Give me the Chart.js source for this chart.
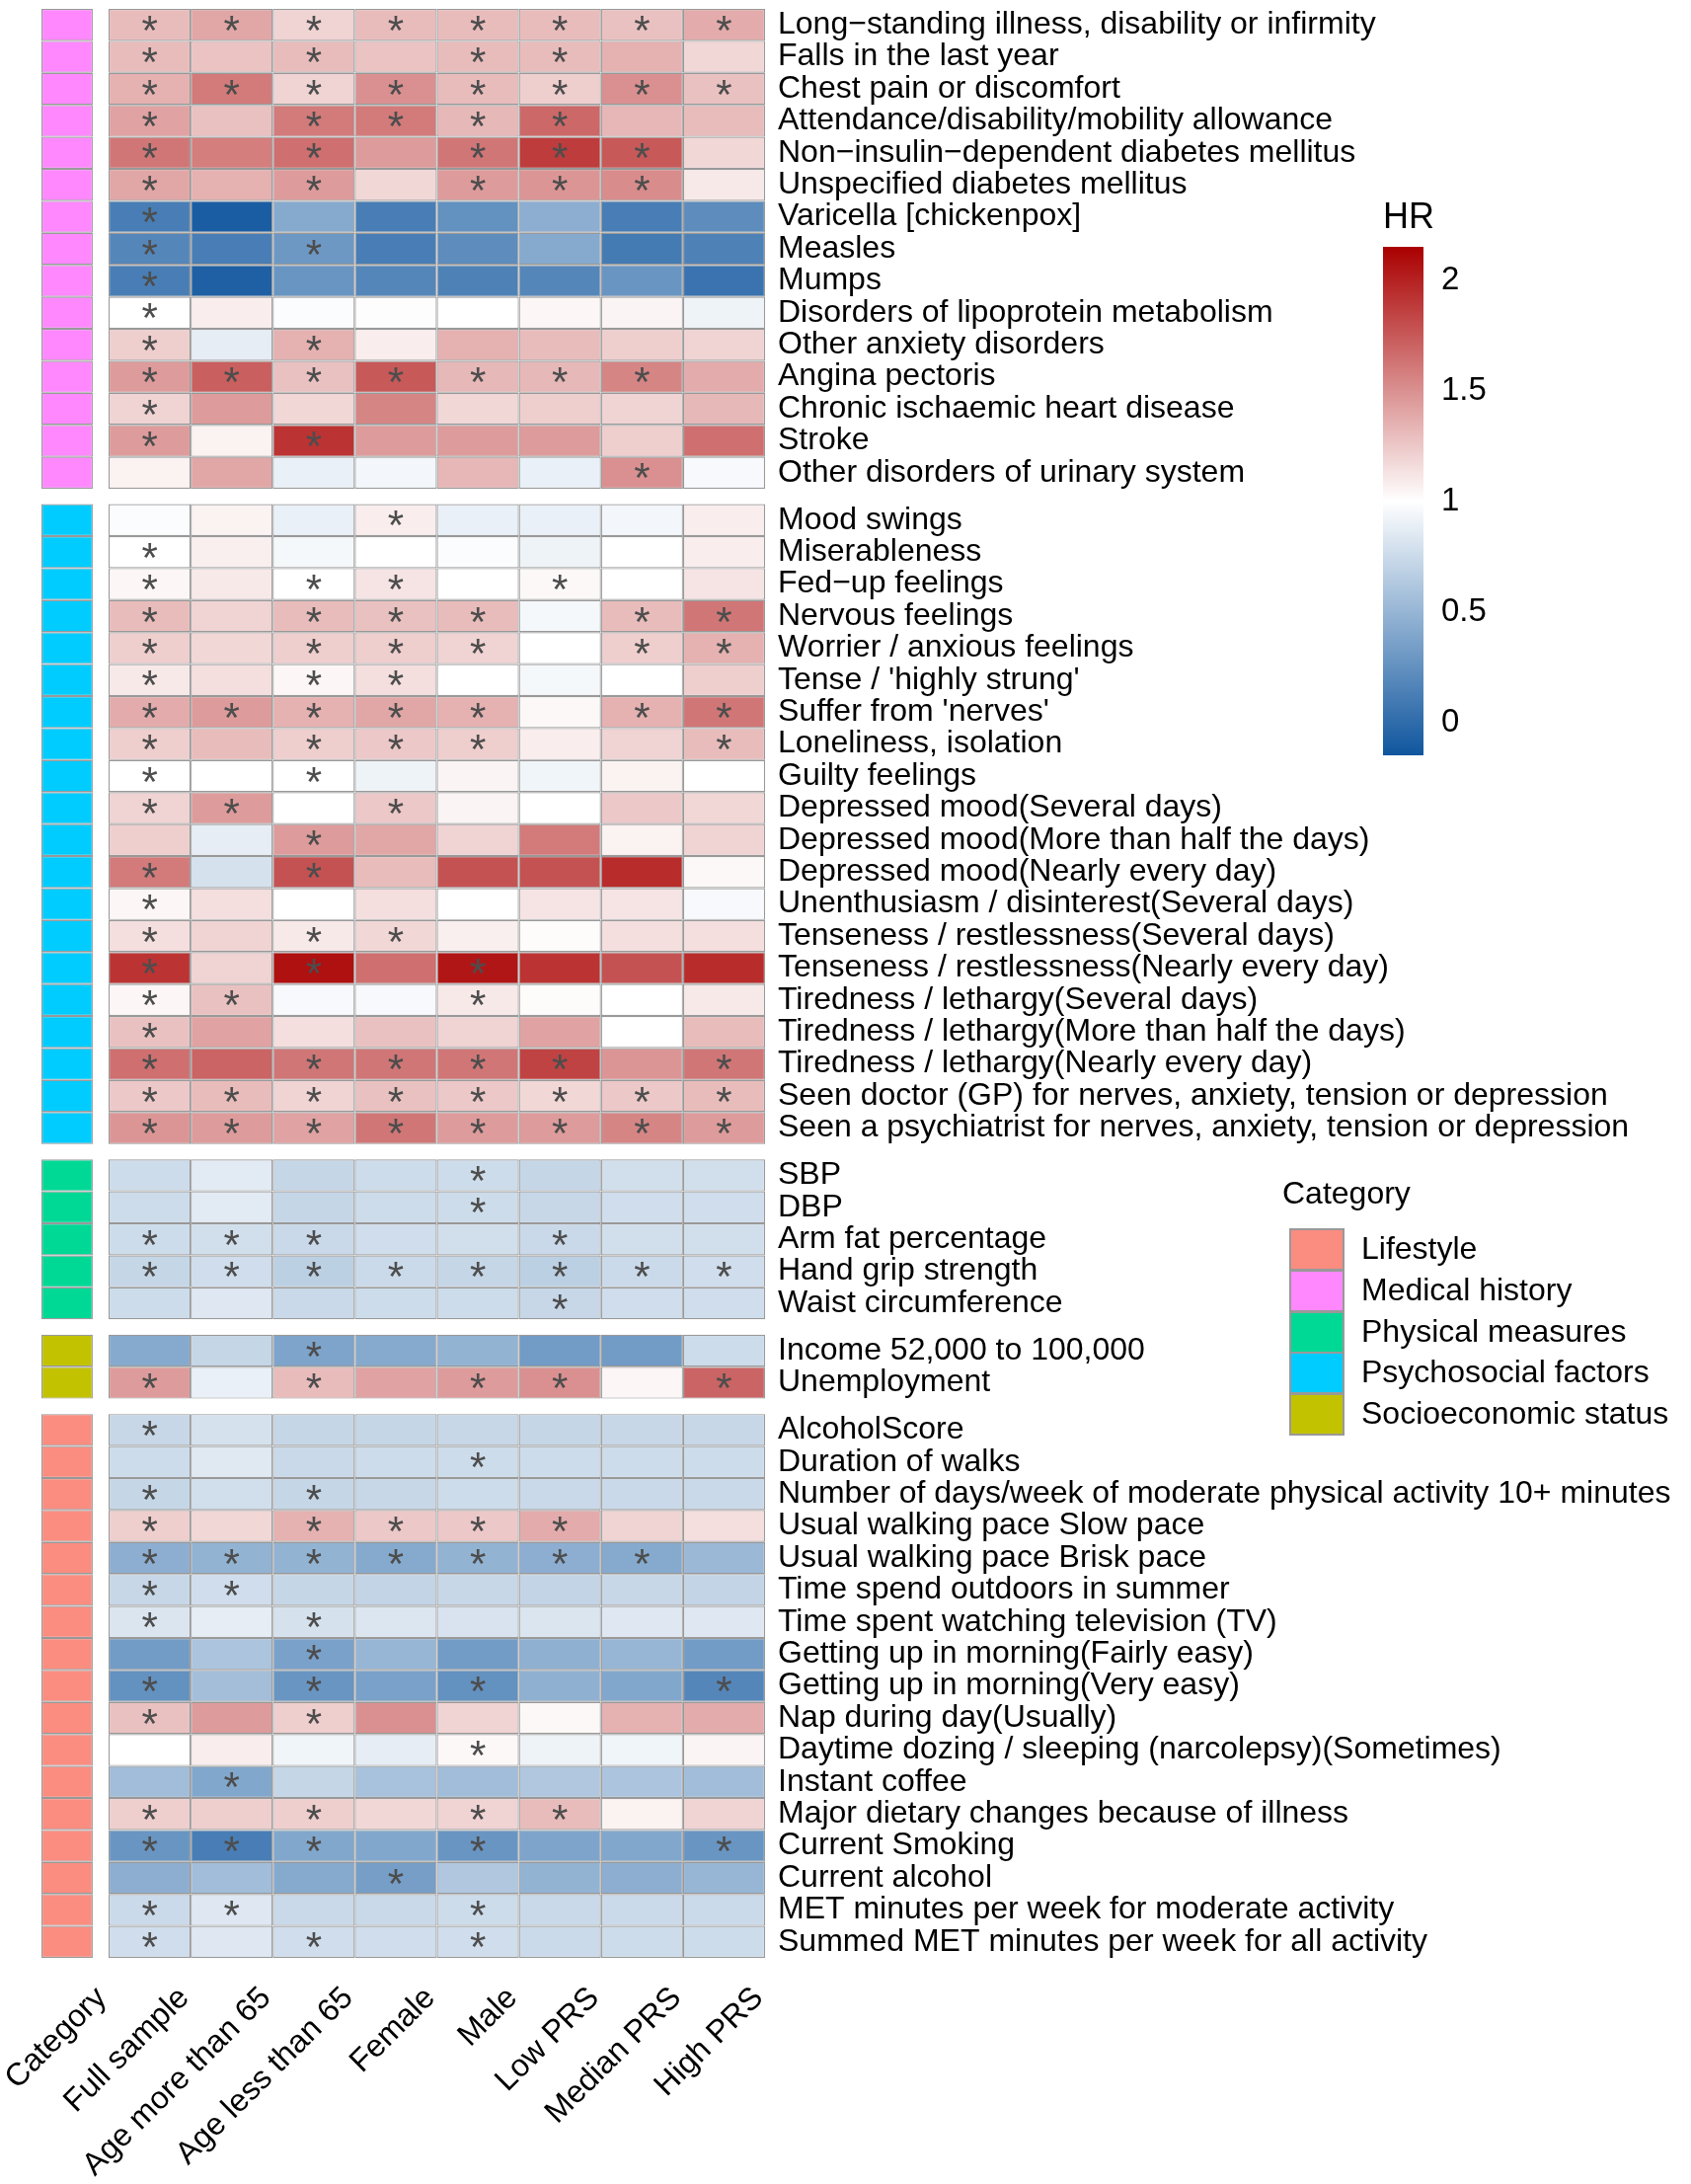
<!DOCTYPE html>
<html>
<head>
<meta charset="utf-8">
<script src="https://cdn.jsdelivr.net/npm/chart.js@4.4.1/dist/chart.umd.min.js"></script>
<style>
  body { margin: 0; background: #fff; font-family: "Liberation Sans", Arial, sans-serif; }
  #wrap { position: relative; width: 1713px; height: 2212px; }
  canvas { position: absolute; }
  .lg { position: absolute; font-size: 32px; color: #000; white-space: nowrap; }
  .box { position: absolute; box-sizing: border-box; border: 2px solid #999; }
</style>
</head>
<body>
<div id="wrap">
  <canvas id="heat" width="1713" height="2212" style="left:0;top:0"></canvas>
  <canvas id="scale" width="200" height="600" style="left:1380px;top:200px"></canvas>
  <div class="lg" style="left:1401px;top:198px;font-size:36px">HR</div>
  <div id="catLegend"></div>
</div>
<script>
const columns = ["Full sample", "Age more than 65", "Age less than 65", "Female", "Male", "Low PRS", "Median PRS", "High PRS"];
const categories = ["Lifestyle", "Medical history", "Physical measures", "Psychosocial factors", "Socioeconomic status"];
const hrTicks = [0, 0.5, 1, 1.5, 2];

const medicalRows = [
  "Long−standing illness, disability or infirmity", "Falls in the last year", "Chest pain or discomfort",
  "Attendance/disability/mobility allowance", "Non−insulin−dependent diabetes mellitus", "Unspecified diabetes mellitus",
  "Varicella [chickenpox]", "Measles", "Mumps", "Disorders of lipoprotein metabolism", "Other anxiety disorders",
  "Angina pectoris", "Chronic ischaemic heart disease", "Stroke", "Other disorders of urinary system"
];
const medicalHR = [
  [1.30, 1.40, 1.20, 1.30, 1.30, 1.30, 1.28, 1.38],
  [1.30, 1.27, 1.30, 1.27, 1.30, 1.30, 1.35, 1.18],
  [1.35, 1.60, 1.20, 1.50, 1.30, 1.22, 1.50, 1.28],
  [1.42, 1.28, 1.60, 1.60, 1.32, 1.68, 1.33, 1.30],
  [1.62, 1.58, 1.65, 1.45, 1.62, 1.88, 1.75, 1.18],
  [1.40, 1.35, 1.45, 1.18, 1.45, 1.48, 1.52, 1.10],
  [0.12, -0.10, 0.42, 0.12, 0.25, 0.45, 0.12, 0.22],
  [0.18, 0.12, 0.30, 0.12, 0.22, 0.42, 0.10, 0.15],
  [0.12, -0.08, 0.28, 0.18, 0.15, 0.18, 0.28, 0.05],
  [1.00, 1.08, 0.98, 1.01, 1.00, 1.04, 1.05, 0.92],
  [1.22, 0.88, 1.35, 1.08, 1.35, 1.30, 1.22, 1.20],
  [1.45, 1.72, 1.28, 1.75, 1.32, 1.32, 1.55, 1.38],
  [1.20, 1.45, 1.18, 1.55, 1.18, 1.22, 1.20, 1.32],
  [1.45, 1.06, 1.92, 1.45, 1.45, 1.45, 1.22, 1.65],
  [1.06, 1.40, 0.90, 0.94, 1.33, 0.90, 1.50, 0.96]
];
const medicalStars = [
  "********", "*.*.**..", "********", "*.****..", "*.*.***.", "*.*.***.", "*.......", "*.*.....",
  "*.......", "*.......", "*.*.....", "*******.", "*.......", "*.*.....", "......*."
];

const psychoRows = [
  "Mood swings", "Miserableness", "Fed−up feelings", "Nervous feelings", "Worrier / anxious feelings",
  "Tense / 'highly strung'", "Suffer from 'nerves'", "Loneliness, isolation", "Guilty feelings",
  "Depressed mood(Several days)", "Depressed mood(More than half the days)", "Depressed mood(Nearly every day)",
  "Unenthusiasm / disinterest(Several days)", "Tenseness / restlessness(Several days)",
  "Tenseness / restlessness(Nearly every day)", "Tiredness / lethargy(Several days)",
  "Tiredness / lethargy(More than half the days)", "Tiredness / lethargy(Nearly every day)",
  "Seen doctor (GP) for nerves, anxiety, tension or depression",
  "Seen a psychiatrist for nerves, anxiety, tension or depression"
];
const psychoHR = [
  [0.98, 1.06, 0.90, 1.08, 0.90, 0.90, 0.94, 1.08],
  [1.00, 1.07, 0.95, 1.00, 0.98, 0.92, 1.00, 1.08],
  [1.04, 1.10, 1.00, 1.12, 1.00, 1.03, 1.00, 1.12],
  [1.30, 1.20, 1.30, 1.28, 1.30, 0.95, 1.30, 1.62],
  [1.22, 1.18, 1.22, 1.22, 1.20, 1.00, 1.22, 1.35],
  [1.10, 1.15, 1.04, 1.15, 1.00, 0.95, 1.00, 1.22],
  [1.38, 1.45, 1.35, 1.40, 1.35, 1.03, 1.35, 1.62],
  [1.22, 1.30, 1.22, 1.25, 1.22, 1.08, 1.20, 1.30],
  [1.00, 1.00, 1.00, 0.92, 1.05, 0.93, 1.06, 1.00],
  [1.20, 1.45, 1.00, 1.25, 1.05, 1.00, 1.25, 1.18],
  [1.22, 0.88, 1.45, 1.40, 1.20, 1.60, 1.06, 1.20],
  [1.60, 0.80, 1.78, 1.30, 1.78, 1.78, 1.95, 1.03],
  [1.04, 1.15, 1.00, 1.15, 1.00, 1.12, 1.12, 0.96],
  [1.15, 1.20, 1.10, 1.18, 1.07, 1.02, 1.15, 1.15],
  [1.92, 1.20, 2.08, 1.65, 2.05, 1.92, 1.78, 1.95],
  [1.04, 1.28, 0.96, 0.96, 1.10, 1.02, 1.00, 1.10],
  [1.28, 1.42, 1.15, 1.28, 1.20, 1.42, 1.00, 1.30],
  [1.65, 1.70, 1.62, 1.62, 1.62, 1.85, 1.48, 1.62],
  [1.25, 1.30, 1.20, 1.28, 1.25, 1.18, 1.25, 1.30],
  [1.48, 1.45, 1.42, 1.62, 1.45, 1.45, 1.55, 1.45]
];
const psychoStars = [
  "...*....", "*.......", "*.**.*..", "*.***.**", "*.***.**", "*.**....", "*****.**", "*.***..*",
  "*.*.....", "**.*....", "..*.....", "*.*.....", "*.......", "*.**....", "*.*.*...", "**..*...",
  "*.......", "*.****.*", "********", "********"
];

const physicalRows = ["SBP", "DBP", "Arm fat percentage", "Hand grip strength", "Waist circumference"];
const physicalHR = [
  [0.76, 0.86, 0.72, 0.76, 0.76, 0.72, 0.78, 0.78],
  [0.76, 0.86, 0.72, 0.76, 0.76, 0.73, 0.77, 0.77],
  [0.76, 0.78, 0.74, 0.77, 0.78, 0.74, 0.78, 0.78],
  [0.72, 0.77, 0.68, 0.75, 0.72, 0.68, 0.75, 0.77],
  [0.76, 0.84, 0.74, 0.76, 0.76, 0.73, 0.77, 0.77]
];
const physicalStars = ["....*...", "....*...", "***..*..", "********", ".....*.."];

const socioRows = ["Income 52,000 to 100,000", "Unemployment"];
const socioHR = [
  [0.42, 0.72, 0.38, 0.42, 0.48, 0.32, 0.32, 0.76],
  [1.45, 0.90, 1.30, 1.42, 1.45, 1.50, 1.04, 1.70]
];
const socioStars = ["..*.....", "*.*.**.*"];

const lifestyleRows = [
  "AlcoholScore", "Duration of walks", "Number of days/week of moderate physical activity 10+ minutes",
  "Usual walking pace Slow pace", "Usual walking pace Brisk pace", "Time spend outdoors in summer",
  "Time spent watching television (TV)", "Getting up in morning(Fairly easy)", "Getting up in morning(Very easy)",
  "Nap during day(Usually)", "Daytime dozing / sleeping (narcolepsy)(Sometimes)", "Instant coffee",
  "Major dietary changes because of illness", "Current Smoking", "Current alcohol",
  "MET minutes per week for moderate activity", "Summed MET minutes per week for all activity"
];
const lifestyleHR = [
  [0.73, 0.80, 0.72, 0.72, 0.73, 0.72, 0.73, 0.73],
  [0.76, 0.85, 0.74, 0.76, 0.76, 0.76, 0.76, 0.76],
  [0.72, 0.78, 0.72, 0.73, 0.76, 0.74, 0.74, 0.74],
  [1.22, 1.18, 1.35, 1.25, 1.25, 1.38, 1.20, 1.15],
  [0.45, 0.48, 0.48, 0.42, 0.48, 0.45, 0.42, 0.52],
  [0.73, 0.77, 0.72, 0.71, 0.73, 0.71, 0.73, 0.71],
  [0.82, 0.88, 0.80, 0.83, 0.81, 0.82, 0.84, 0.84],
  [0.32, 0.60, 0.36, 0.50, 0.32, 0.46, 0.50, 0.32],
  [0.25, 0.56, 0.28, 0.36, 0.25, 0.46, 0.40, 0.18],
  [1.28, 1.45, 1.22, 1.50, 1.20, 1.03, 1.35, 1.38],
  [1.00, 1.08, 0.93, 0.88, 1.03, 0.92, 0.93, 1.05],
  [0.55, 0.40, 0.72, 0.58, 0.55, 0.62, 0.60, 0.55],
  [1.22, 1.22, 1.22, 1.18, 1.20, 1.30, 1.06, 1.20],
  [0.28, 0.12, 0.40, 0.40, 0.28, 0.38, 0.40, 0.28],
  [0.45, 0.55, 0.42, 0.34, 0.62, 0.48, 0.45, 0.50],
  [0.75, 0.84, 0.74, 0.74, 0.76, 0.74, 0.75, 0.75],
  [0.77, 0.84, 0.77, 0.77, 0.77, 0.75, 0.76, 0.76]
];
const lifestyleStars = [
  "*.......", "....*...", "*.*.....", "*.****..", "*******.", "**......", "*.*.....", "..*.....",
  "*.*.*..*", "*.*.....", "....*...", ".*......", "*.*.**..", "***.*..*", "...*....", "**..*...", "*.*.*..."
];

// plot order of the blocks (top to bottom)
const blocks = [
  ["Medical history", medicalRows, medicalHR, medicalStars],
  ["Psychosocial factors", psychoRows, psychoHR, psychoStars],
  ["Physical measures", physicalRows, physicalHR, physicalStars],
  ["Socioeconomic status", socioRows, socioHR, socioStars],
  ["Lifestyle", lifestyleRows, lifestyleHR, lifestyleStars]
];

// ---- styles / layout ----
const FONT = '"Liberation Sans", Arial, sans-serif';
const catColors = {
  "Lifestyle": "#FA8C80",
  "Medical history": "#FF88FF",
  "Physical measures": "#00D996",
  "Psychosocial factors": "#00CCFF",
  "Socioeconomic status": "#C2C200"
};
const HR_MIN = -0.15, HR_MID = 1, HR_MAX = 2.15;
const BLUE = [16, 86, 158], WHITE = [255, 255, 255], RED = [170, 0, 0];
const GAP = 0.48;             // gap between blocks, in rows
const CAT_L = -0.818, CAT_R = -0.193;

function hrColor(v) {
  let a, b, t;
  if (v <= HR_MID) { a = BLUE; b = WHITE; t = (v - HR_MIN) / (HR_MID - HR_MIN); }
  else { a = WHITE; b = RED; t = (v - HR_MID) / (HR_MAX - HR_MID); }
  t = Math.max(0, Math.min(1, t));
  const c = a.map((x, i) => Math.round(x + (b[i] - x) * t));
  return `rgb(${c[0]},${c[1]},${c[2]})`;
}

const rowPos = [], rowLabels = [], rowHR = [], rowStars = [], rowCat = [];
let offset = 0;
blocks.forEach(([cat, labels, hr, stars]) => {
  labels.forEach((l, i) => {
    rowPos.push(offset + i + 0.5);
    rowLabels.push(l);
    rowHR.push(hr[i]);
    rowStars.push(stars[i]);
    rowCat.push(cat);
  });
  offset += labels.length + GAP;
});
const total = offset - GAP;

const datasets = [{
  data: rowPos.map(p => ({ y: p, x: [CAT_L, CAT_R] })),
  backgroundColor: rowCat.map(c => catColors[c])
}];
columns.forEach((c, j) => {
  datasets.push({
    data: rowPos.map(p => ({ y: p, x: [j, j + 1] })),
    backgroundColor: rowHR.map(r => hrColor(r[j]))
  });
});

const starPlugin = {
  id: "stars",
  afterDatasetsDraw(chart) {
    const ctx = chart.ctx;
    ctx.save();
    ctx.fillStyle = "#4D4D4D";
    ctx.font = "42px " + FONT;
    ctx.textAlign = "center";
    ctx.textBaseline = "middle";
    for (let j = 1; j <= columns.length; j++) {
      chart.getDatasetMeta(j).data.forEach((el, i) => {
        if (rowStars[i][j - 1] === "*") {
          const p = el.getCenterPoint();
          ctx.fillText("*", p.x, p.y + 8);
        }
      });
    }
    ctx.restore();
  }
};

const xLabels = ["Category"].concat(columns);
const xCenters = [(CAT_L + CAT_R) / 2].concat(columns.map((c, j) => j + 0.5));

new Chart(document.getElementById("heat"), {
  type: "bar",
  data: { datasets },
  plugins: [starPlugin],
  options: {
    responsive: false,
    animation: false,
    events: [],
    indexAxis: "y",
    layout: { padding: { left: 42, top: 9, right: 0, bottom: 0 } },
    plugins: { legend: { display: false }, tooltip: { enabled: false } },
    datasets: {
      bar: {
        grouped: false, barPercentage: 1, categoryPercentage: 1,
        borderWidth: 1.2, borderColor: "#999999", borderSkipped: false, inflateAmount: 0
      }
    },
    scales: {
      x: {
        type: "linear", position: "bottom", min: CAT_L, max: columns.length, offset: false,
        afterBuildTicks: a => { a.ticks = xCenters.map(v => ({ value: v })); },
        afterFit: s => { s.height = 229; s.paddingLeft = 0; s.paddingRight = 0; },
        ticks: {
          autoSkip: false, minRotation: 45, maxRotation: 45, padding: 22, labelOffset: 35,
          color: "#000", font: { size: 32, family: FONT },
          callback: (v, i) => xLabels[i]
        },
        grid: { display: false, drawTicks: false },
        border: { display: false }
      },
      y: {
        type: "linear", position: "right", reverse: true, min: 0, max: total, offset: false,
        afterBuildTicks: a => { a.ticks = rowPos.map(v => ({ value: v })); },
        afterFit: s => { s.width = 938; s.paddingTop = 0; s.paddingBottom = 0; },
        ticks: {
          autoSkip: false, padding: 13, color: "#000", font: { size: 32, family: FONT },
          callback: (v, i) => rowLabels[i]
        },
        grid: { display: false, drawTicks: false },
        border: { display: false }
      }
    }
  }
});

// colour key
new Chart(document.getElementById("scale"), {
  type: "bar",
  data: {
    labels: ["HR"],
    datasets: [{
      data: [[HR_MIN, HR_MAX]],
      borderWidth: 0, inflateAmount: 0, barPercentage: 1, categoryPercentage: 1,
      backgroundColor: (c) => {
        const ch = c.chart, y = ch.scales.y;
        if (!ch.chartArea || !y) return "#fff";
        const g = ch.ctx.createLinearGradient(0, y.getPixelForValue(HR_MIN), 0, y.getPixelForValue(HR_MAX));
        g.addColorStop(0, hrColor(HR_MIN));
        g.addColorStop((HR_MID - HR_MIN) / (HR_MAX - HR_MIN), hrColor(HR_MID));
        g.addColorStop(1, hrColor(HR_MAX));
        return g;
      }
    }]
  },
  options: {
    responsive: false,
    animation: false,
    events: [],
    layout: { padding: { left: 21, top: 50, right: 0, bottom: 35 } },
    plugins: { legend: { display: false }, tooltip: { enabled: false } },
    scales: {
      x: { display: false },
      y: {
        position: "right", min: HR_MIN, max: HR_MAX,
        afterBuildTicks: a => { a.ticks = hrTicks.map(v => ({ value: v })); },
        afterFit: s => { s.width = 138; s.paddingTop = 0; s.paddingBottom = 0; },
        ticks: { padding: 18, color: "#000", font: { size: 33, family: FONT }, callback: v => String(v) },
        grid: { display: false, drawTicks: false },
        border: { display: false }
      }
    }
  }
});

// category key
const leg = document.getElementById("catLegend");
let html = '<div class="lg" style="left:1299px;top:1190px">Category</div>';
categories.forEach((c, k) => {
  const top = 1244 + k * 41.8;
  html += `<div class="box" style="left:1306px;top:${top}px;width:56px;height:43px;background:${catColors[c]}"></div>`;
  html += `<div class="lg" style="left:1379px;top:${top + 2}px">${c}</div>`;
});
leg.innerHTML = html;
</script>
</body>
</html>
